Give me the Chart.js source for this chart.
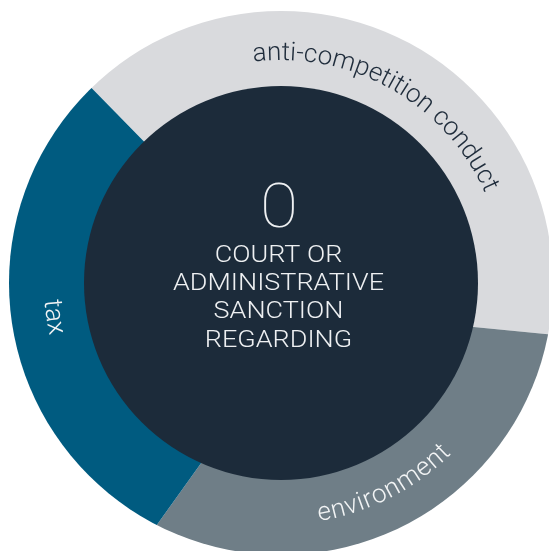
<!DOCTYPE html>
<html>
<head>
<meta charset="utf-8">
<script src="https://cdn.jsdelivr.net/npm/chart.js@4/dist/chart.umd.min.js"></script>
<style>
 html, body { margin: 0; padding: 0; background: #fff; overflow: hidden; width: 549px; height: 551px; position: relative; }
 #wrap { position: absolute; left: -5px; top: -4px; width: 630px; height: 630px; }
</style>
</head>
<body>
<div id="wrap"><canvas id="chart"></canvas></div>
<script>
const categories = ['anti-competition conduct', 'environment', 'tax'];
const values = [7, 6, 5];
const centerValue = '0';
const centerLines = ['COURT OR', 'ADMINISTRATIVE', 'SANCTION', 'REGARDING'];

// the ring is not concentric with the slice apex in the original
const ring = { dx: -29, dy: -28, outer: 272, inner: 197 };

// label placement: angle (deg, clockwise from top), baseline radius, flipped for lower half
const labelPos = [
 { angle: 29.5, r: 223, flip: false, color: '#1f2c3b', spacing: 0 },
 { angle: 153, r: 241, flip: true, color: '#f2f4f5', spacing: 0.8 },
 { angle: 261.5, r: 237, flip: true, color: '#f2f4f5', spacing: 0.5 },
];

function drawArcText(ctx, text, cx, cy, radius, centerAngle, flip, spacing) {
 const dir = flip ? -1 : 1;
 const chars = [...text];
 const total = chars.reduce((s, ch) => s + ctx.measureText(ch).width + spacing, -spacing);
 let ang = centerAngle - dir * total / 2 / radius;
 for (const ch of chars) {
 const w = ctx.measureText(ch).width;
 const a = ang + dir * w / 2 / radius;
 ctx.save();
 ctx.translate(cx + radius * Math.sin(a), cy - radius * Math.cos(a));
 ctx.rotate(flip ? a + Math.PI : a);
 ctx.fillText(ch, 0, 0);
 ctx.restore();
 ang += dir * (w + spacing) / radius;
 }
}

const ringPlugin = {
 id: 'ringPlugin',
 beforeDatasetsDraw(chart) {
 const { ctx } = chart;
 const arc = chart.getDatasetMeta(0).data[0];
 ctx.save();
 ctx.beginPath();
 ctx.arc(arc.x + ring.dx, arc.y + ring.dy, ring.outer, 0, Math.PI * 2);
 ctx.clip();
 },
 afterDatasetsDraw(chart) {
 const { ctx } = chart;
 ctx.restore();
 const arc = chart.getDatasetMeta(0).data[0];
 const cx = arc.x + ring.dx, cy = arc.y + ring.dy;

 ctx.save();
 ctx.fillStyle = '#1c2b3a';
 ctx.beginPath();
 ctx.arc(cx, cy, ring.inner, 0, Math.PI * 2);
 ctx.fill();

 ctx.textAlign = 'center';
 ctx.textBaseline = 'alphabetic';
 ctx.fillStyle = '#eef0f2';
 ctx.font = '100 62px Roboto';
 ctx.save();
 ctx.translate(cx - 2, cy - 56);
 ctx.scale(1.12, 1);
 ctx.fillText(centerValue, 0, 0);
 ctx.restore();

 ctx.font = '300 24px Roboto';
 const widest = Math.max(...centerLines.map(l => ctx.measureText(l).width));
 const sx = 211 / widest;
 centerLines.forEach((line, i) => {
 ctx.save();
 ctx.translate(cx - 2.5, cy - 21 + i * 28.2);
 ctx.scale(sx, 1);
 ctx.fillText(line, 0, 0);
 ctx.restore();
 });

 ctx.font = '300 26px Roboto';
 categories.forEach((label, i) => {
 const p = labelPos[i];
 ctx.fillStyle = p.color;
 drawArcText(ctx, label, cx, cy, p.r, p.angle * Math.PI / 180, p.flip, p.spacing);
 });
 ctx.restore();
 }
};

new Chart(document.getElementById('chart'), {
 type: 'pie',
 data: {
 labels: categories,
 datasets: [{
 data: values,
 backgroundColor: ['#d9dadd', '#6f7e87', '#005b80'],
 borderWidth: 0,
 }],
 },
 options: {
 responsive: true,
 maintainAspectRatio: false,
 animation: false,
 rotation: -44.4,
 layout: { padding: 0 },
 plugins: {
 legend: { display: false },
 tooltip: { enabled: false },
 },
 },
 plugins: [ringPlugin],
});
</script>
</body>
</html>
